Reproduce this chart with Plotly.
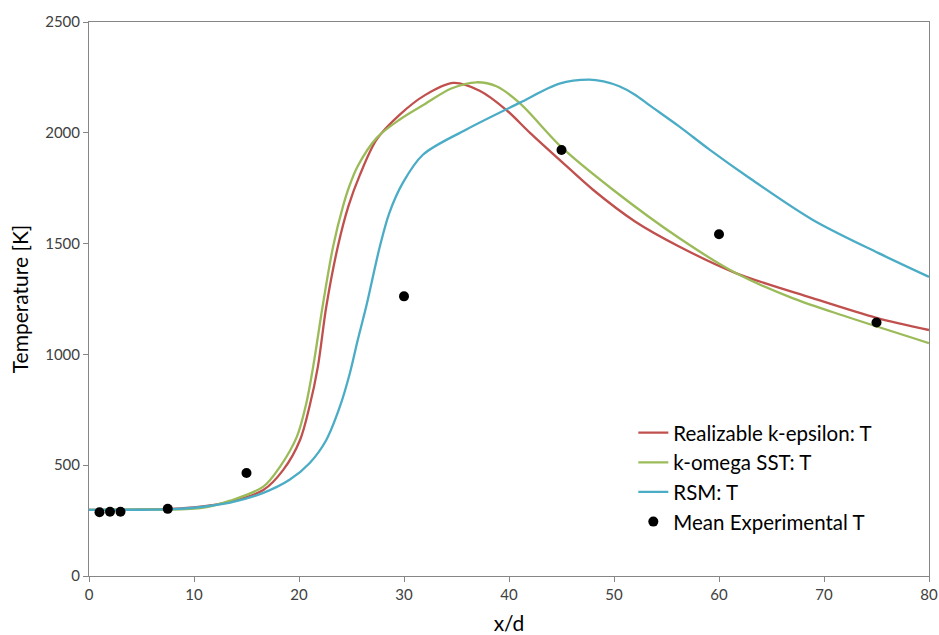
import plotly.graph_objects as go

# Realizable k-epsilon
ke_x = [0, 5, 10, 13.45, 16.6, 18.5, 20.1, 21.0, 21.8, 22.6, 23.7, 24.7, 25.8, 27.4, 29.6, 32, 34.7, 37.2, 39.7, 42, 44.8, 48.0, 52, 56.2, 61.6, 68.9, 75, 80]
ke_y = [298, 300, 310, 336, 388, 479, 614, 765, 945, 1216, 1487, 1668, 1810, 1970, 2082, 2170, 2225, 2190, 2105, 2000, 1879, 1743, 1600, 1487, 1367, 1254, 1165, 1110]

# k-omega SST
kw_x = [0, 5, 10.6, 13.45, 16.6, 18.2, 19.8, 20.7, 21.35, 22.3, 23.25, 24.2, 24.8, 25.6, 27.4, 29.6, 32, 34.5, 36.9, 38.8, 41.0, 45, 49.9, 56.2, 61.6, 67, 72.1, 80]
kw_y = [298, 300, 306, 340, 403, 494, 629, 780, 945, 1232, 1487, 1670, 1760, 1850, 1977, 2060, 2130, 2200, 2228, 2210, 2135, 1935, 1743, 1525, 1367, 1254, 1171, 1051]

# RSM
rsm_x = [0, 5, 8, 10, 13.45, 16.6, 19.1, 21.0, 22.6, 23.9, 24.85, 25.6, 26.4, 27.7, 28.6, 29.9, 31.8, 35.9, 41, 44.8, 47.6, 49.0, 50.5, 52.0, 53.3, 56.2, 59.1, 62.9, 68.9, 75.2, 80]
rsm_y = [298, 299, 302, 308, 331, 375, 434, 509, 614, 765, 916, 1066, 1216, 1487, 1638, 1775, 1901, 2014, 2135, 2222, 2240, 2232, 2210, 2172, 2127, 2029, 1924, 1796, 1608, 1457, 1350]

# Mean experimental T
exp_x = [1, 2, 3, 7.5, 15, 30, 45, 60, 75]
exp_y = [288, 290, 290, 303, 465, 1262, 1922, 1542, 1144]

FONT = "Lato"
AX = "#868686"

fig = go.Figure()
fig.add_trace(go.Scatter(x=ke_x, y=ke_y, mode="lines", name="Realizable k-epsilon: T",
                         line=dict(color="#C0504D", width=2.3, shape="spline", smoothing=0.9)))
fig.add_trace(go.Scatter(x=kw_x, y=kw_y, mode="lines", name="k-omega SST: T",
                         line=dict(color="#9BBB59", width=2.3, shape="spline", smoothing=0.9)))
fig.add_trace(go.Scatter(x=rsm_x, y=rsm_y, mode="lines", name="RSM: T",
                         line=dict(color="#4BACC6", width=2.3, shape="spline", smoothing=0.9)))
fig.add_trace(go.Scatter(x=exp_x, y=exp_y, mode="markers", name="Mean Experimental T",
                         marker=dict(color="black", size=10)))

fig.update_layout(
    width=939, height=635,
    margin=dict(l=89, r=10, t=22, b=59),
    paper_bgcolor="white", plot_bgcolor="white",
    font=dict(family=FONT, size=15, color="#404040"),
    showlegend=True,
    legend=dict(x=0.648, y=0.2945, xanchor="left", yanchor="top",
                font=dict(family=FONT, size=20.5, color="black"),
                bgcolor="rgba(0,0,0,0)", itemwidth=30, tracegroupgap=0),
    xaxis=dict(range=[0, 80], tickvals=[0, 10, 20, 30, 40, 50, 60, 70, 80],
               showgrid=False, zeroline=False, showline=True, linecolor=AX,
               linewidth=1, mirror=True, ticks="outside", ticklen=5, tickcolor=AX,
               automargin=False,
               tickfont=dict(family=FONT, size=15, color="#404040"),
               title=dict(text="x/d", font=dict(family=FONT, size=21, color="black"), standoff=14)),
    yaxis=dict(range=[0, 2500], tickvals=[0, 500, 1000, 1500, 2000, 2500],
               showgrid=False, zeroline=False, showline=True, linecolor=AX,
               linewidth=1, mirror=True, ticks="outside", ticklen=5, tickcolor=AX,
               automargin=False,
               tickfont=dict(family=FONT, size=15, color="#404040"),
               title=dict(text="Temperature [K]", font=dict(family=FONT, size=21, color="black"), standoff=10)),
)

fig.write_html("out.html")
